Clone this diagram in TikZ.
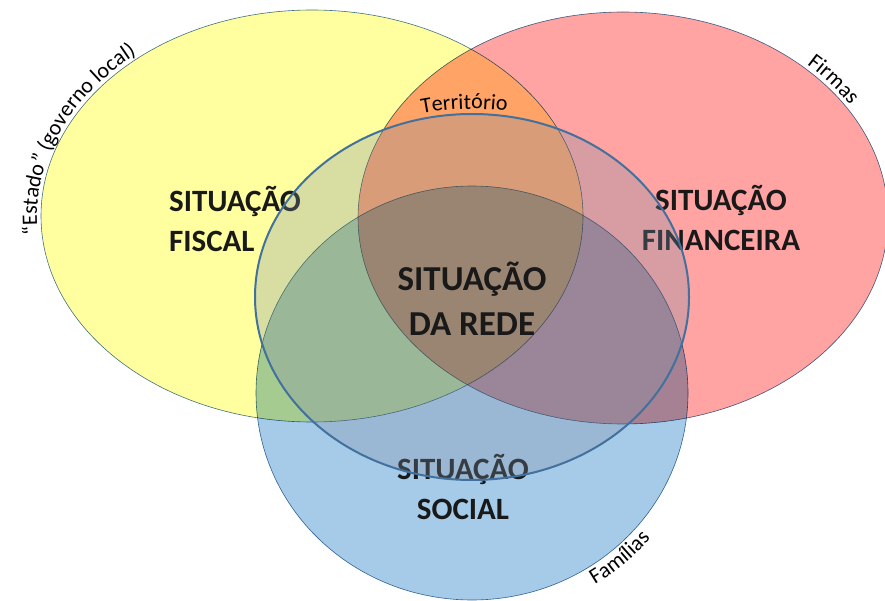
\documentclass[tikz,border=0pt]{standalone}
\usepackage{fontspec}
\setmainfont{Carlito}
\usetikzlibrary{decorations.text}
\definecolor{fiscal}{HTML}{FFFFA0}
\definecolor{financ}{HTML}{FFA3A3}
\definecolor{social}{HTML}{A6CBE8}
\definecolor{redefill}{HTML}{7F8FA6}
\definecolor{ink}{HTML}{41719C}

\begin{document}
\begin{tikzpicture}[x=1pt,y=1pt,
 venn/.style={draw=ink,line width=0.6pt,blend mode=multiply},
 big/.style={font=\fontsize{31}{40}\selectfont\bfseries,align=center,text=black!90},
 arclabel/.style={decorate,decoration={text along path,text align=center,
 text={|\fontsize{22}{26}\selectfont|#1}}}]
\useasboundingbox (0,0) rectangle (885,-601);
\coordinate (cf) at (312,-216);
\coordinate (cm) at (623,-218);
\coordinate (cs) at (472,-393);
\coordinate (cr) at (472,-297);
\fill[fiscal,venn] (cf) ellipse[x radius=271pt,y radius=206pt];
\fill[financ,venn] (cm) ellipse[x radius=265pt,y radius=206pt];
\fill[social,venn] (cs) ellipse[x radius=216pt,y radius=207pt];
\node[big,align=left] (fisc) at (235,-219) {SITUAÇÃO\\FISCAL};
\node[big] (finc) at (721,-218) {SITUAÇÃO\\FINANCEIRA};
\node[big] (soci) at (463,-487) {SITUAÇÃO\\SOCIAL};
\fill[redefill,fill opacity=0.3] (cr) ellipse[x radius=217pt,y radius=183pt];
\draw[ink,line width=2pt] (cr) ellipse[x radius=217pt,y radius=183pt];
\node[big,font=\fontsize{35}{45}\selectfont\bfseries] (rede) at (472,-299) {SITUAÇÃO\\DA REDE};
\path[arclabel={“Estado” (governo local)}] (cf) ++(205:275pt and 210pt)
 arc[start angle=205,end angle=113,x radius=275pt,y radius=210pt];
\path[arclabel=Firmas] (cm) ++(68:269pt and 210pt)
 arc[start angle=68,end angle=8,x radius=269pt,y radius=210pt];
\path[arclabel=Famílias] (cs) ++(-82:234pt and 225pt)
 arc[start angle=-82,end angle=-16,x radius=234pt,y radius=225pt];
\path[arclabel=Território] (cr) ++(112:222pt and 188pt)
 arc[start angle=112,end angle=72,x radius=222pt,y radius=188pt];
\end{tikzpicture}
\end{document}
